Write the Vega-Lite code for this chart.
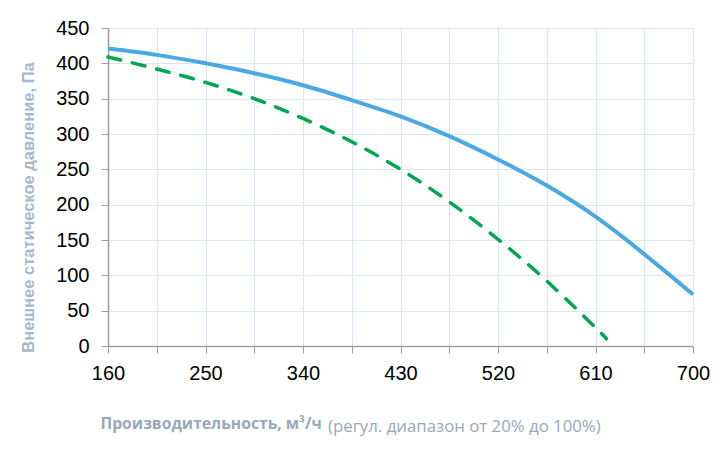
{
  "$schema": "https://vega.github.io/schema/vega-lite/v6.json",
  "autosize": {"type": "none"},
  "width": 585,
  "height": 318,
  "padding": {"left": 108, "top": 28, "right": 34, "bottom": 107},
  "background": "#ffffff",
  "config": {
    "view": {"stroke": null},
    "title": {"font": "Open Sans", "fontSize": 16.8, "fontWeight": "normal", "color": "#98a8ba"}
  },
  "title": {
    "text": "(регул. диапазон от 20% до 100%)",
    "orient": "bottom",
    "anchor": "start",
    "dx": 308,
    "offset": -12
  },
  "data": {
    "values": [
      {"flow": 160, "pressure": 421, "series": "max"},
      {"flow": 205, "pressure": 412, "series": "max"},
      {"flow": 250, "pressure": 400, "series": "max"},
      {"flow": 295, "pressure": 386, "series": "max"},
      {"flow": 340, "pressure": 369, "series": "max"},
      {"flow": 385, "pressure": 348, "series": "max"},
      {"flow": 430, "pressure": 325, "series": "max"},
      {"flow": 475, "pressure": 297, "series": "max"},
      {"flow": 520, "pressure": 264, "series": "max"},
      {"flow": 565, "pressure": 227, "series": "max"},
      {"flow": 610, "pressure": 183, "series": "max"},
      {"flow": 655, "pressure": 130, "series": "max"},
      {"flow": 700, "pressure": 73, "series": "max"},
      {"flow": 160, "pressure": 409, "series": "filter"},
      {"flow": 205, "pressure": 392, "series": "filter"},
      {"flow": 250, "pressure": 373, "series": "filter"},
      {"flow": 295, "pressure": 350, "series": "filter"},
      {"flow": 340, "pressure": 322, "series": "filter"},
      {"flow": 385, "pressure": 289, "series": "filter"},
      {"flow": 430, "pressure": 250, "series": "filter"},
      {"flow": 475, "pressure": 204, "series": "filter"},
      {"flow": 520, "pressure": 151, "series": "filter"},
      {"flow": 565, "pressure": 92, "series": "filter"},
      {"flow": 610, "pressure": 26, "series": "filter"},
      {"flow": 620, "pressure": 10, "series": "filter"}
    ]
  },
  "encoding": {
    "x": {
      "field": "flow",
      "type": "quantitative",
      "scale": {"domain": [160, 700], "nice": false, "zero": false},
      "axis": {
        "values": [160, 205, 250, 295, 340, 385, 430, 475, 520, 565, 610, 655, 700],
        "labelExpr": "(datum.value - 160) % 90 == 0 ? datum.label : ''",
        "labelFont": "Liberation Sans",
        "labelFontSize": 20,
        "labelColor": "#000000",
        "labelPadding": 10,
        "labelFlush": false,
        "labelOverlap": false,
        "tickSize": 7,
        "tickColor": "#a0a0a0",
        "domainColor": "#a0a0a0",
        "domainWidth": 1.5,
        "gridColor": "#dbe6f3",
        "gridWidth": 1.2,
        "title": "Производительность, м³/ч",
        "titleFont": "Open Sans",
        "titleFontSize": 15.7,
        "titleFontWeight": "bold",
        "titleColor": "#98a8ba",
        "titleAnchor": "start",
        "titleAlign": "left",
        "titleBaseline": "alphabetic",
        "titleX": -8,
        "titleY": 82
      }
    },
    "y": {
      "field": "pressure",
      "type": "quantitative",
      "scale": {"domain": [0, 450], "nice": false},
      "axis": {
        "values": [0, 50, 100, 150, 200, 250, 300, 350, 400, 450],
        "labelFont": "Liberation Sans",
        "labelFontSize": 20,
        "labelColor": "#000000",
        "labelPadding": 12,
        "labelFlush": false,
        "tickSize": 7,
        "tickColor": "#a0a0a0",
        "domainColor": "#a0a0a0",
        "domainWidth": 1.5,
        "gridColor": "#dbe6f3",
        "gridWidth": 1.2,
        "title": "Внешнее статическое давление, Па",
        "titleFont": "Liberation Sans",
        "titleFontSize": 16.5,
        "titleFontWeight": "bold",
        "titleColor": "#a9b7c8",
        "titleAnchor": "middle",
        "titleBaseline": "alphabetic",
        "titleX": -75,
        "titleY": 179
      }
    }
  },
  "layer": [
    {
      "transform": [{"filter": "datum.series == 'max'"}],
      "mark": {"type": "line", "interpolate": "natural", "color": "#4aa9e3", "strokeWidth": 4}
    },
    {
      "transform": [{"filter": "datum.series == 'filter'"}],
      "mark": {"type": "line", "interpolate": "natural", "color": "#00a650", "strokeWidth": 3.5, "strokeDash": [13, 12], "strokeCap": "round"}
    }
  ]
}
